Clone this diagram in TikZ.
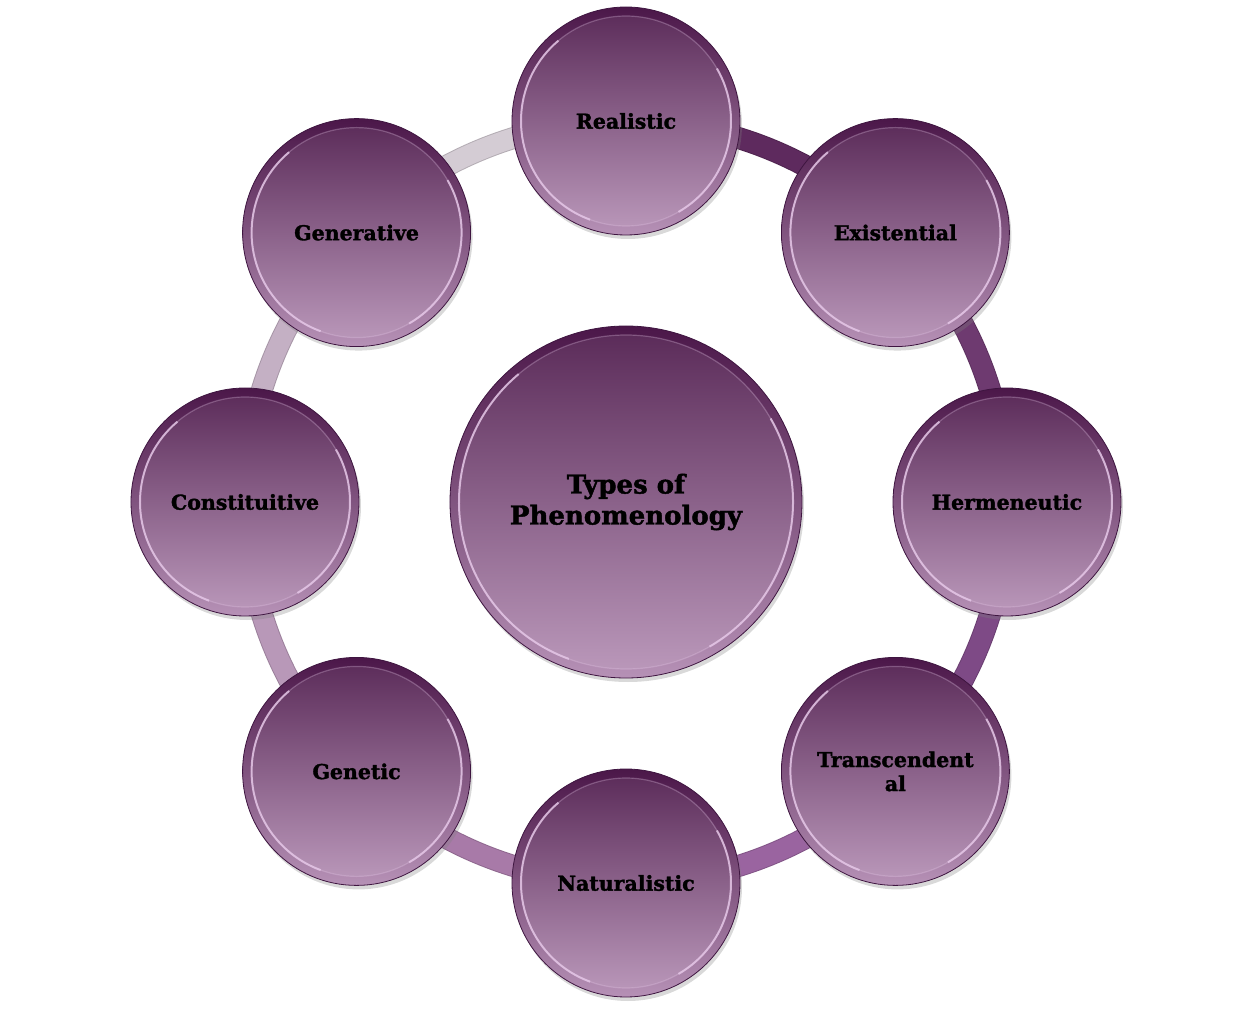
\documentclass[tikz,border=0pt]{standalone}
\usepackage{fontspec}
\setmainfont{DejaVu Serif}[BoldFeatures={FakeBold=1.6}]
\usetikzlibrary{shadows, backgrounds}

\definecolor{plumdark}{HTML}{4B1749}
\definecolor{plumlight}{HTML}{B691B6}
\definecolor{plumrim}{HTML}{3E1540}
\definecolor{plumshine}{HTML}{E6C8E8}
\definecolor{ringa}{HTML}{5E2A5E}
\definecolor{ringb}{HTML}{6E3A70}
\definecolor{ringc}{HTML}{7E4A86}
\definecolor{ringd}{HTML}{9A64A0}
\definecolor{ringe}{HTML}{A87AA8}
\definecolor{ringf}{HTML}{B898B8}
\definecolor{ringg}{HTML}{C4B0C4}
\definecolor{ringh}{HTML}{D4CCD4}

\begin{document}
\begin{tikzpicture}[x=1pt, y=1pt,
    bubble/.style={circle, minimum size=#1, inner sep=0pt, draw=plumrim, line width=0.8pt,
        top color=plumdark, bottom color=plumlight, align=center,
        font=\bfseries\fontsize{20.5}{24}\selectfont,
        drop shadow={opacity=0.3, shadow xshift=2pt, shadow yshift=-4pt},
        path picture={
            \shade[top color=plumdark!92!white, bottom color=plumlight!92!white]
                (path picture bounding box.center) circle[radius=#1/2-9pt];
            \draw[plumshine, line width=1.2pt, opacity=0.3]
                (path picture bounding box.center) circle[radius=#1/2-9pt];
            \draw[plumshine, line width=2pt, opacity=0.8]
                ([shift={(130:#1/2-9pt)}]path picture bounding box.center)
                arc[start angle=130, end angle=250, radius=#1/2-9pt];
            \draw[plumshine, line width=2pt, opacity=0.8]
                ([shift={(-60:#1/2-9pt)}]path picture bounding box.center)
                arc[start angle=-60, end angle=30, radius=#1/2-9pt];
        }},
    bubble/.default=228pt,
    link/.style={line width=1pt, draw=#1!85!black, double=#1, double distance=20pt,
        bend left=22.5, looseness=0.886}]
    \useasboundingbox (-626,-507) rectangle (633,502);

    % centre and the eight types
    \node[bubble=352pt, font=\bfseries\fontsize{26}{31}\selectfont] (types) at (0,0) {Types of\\Phenomenology};
    \node[bubble] (real)  at (90:381)   {Realistic};
    \node[bubble] (exist) at (45:381)   {Existential};
    \node[bubble] (herm)  at (0:381)    {Hermeneutic};
    \node[bubble] (trans) at (-45:381)  {Transcendent\\al};
    \node[bubble] (nat)   at (-90:381)  {Naturalistic};
    \node[bubble] (gen)   at (-135:381) {Genetic};
    \node[bubble] (const) at (180:381)  {Constituitive};
    \node[bubble] (gener) at (135:381)  {Generative};

    % ring behind the circles
    \begin{pgfonlayer}{background}
    \path
    (real.center)  edge [link=ringa] (exist.center)
    (exist.center) edge [link=ringb] (herm.center)
    (herm.center)  edge [link=ringc] (trans.center)
    (trans.center) edge [link=ringd] (nat.center)
    (nat.center)   edge [link=ringe] (gen.center)
    (gen.center)   edge [link=ringf] (const.center)
    (const.center) edge [link=ringg] (gener.center)
    (gener.center) edge [link=ringh] (real.center);
    \end{pgfonlayer}
\end{tikzpicture}
\end{document}
